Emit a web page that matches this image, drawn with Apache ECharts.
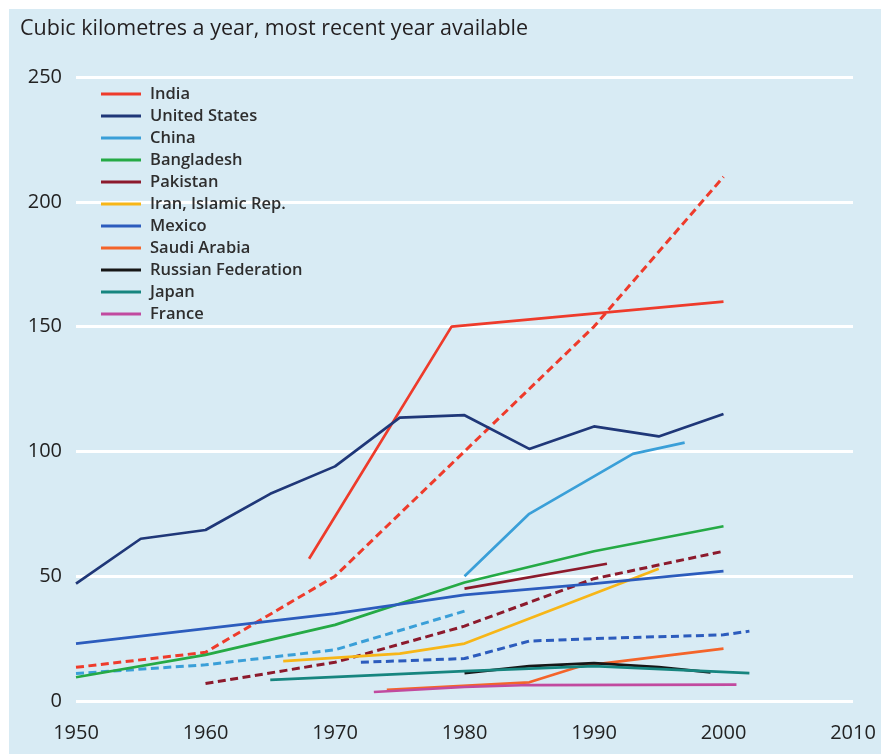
<!DOCTYPE html>
<html>
<head>
<meta charset="utf-8">
<script src="https://cdn.jsdelivr.net/npm/echarts@6/dist/echarts.min.js"></script>
<style>
  html, body { margin: 0; padding: 0; background: #ffffff; }
  #chart { position: absolute; left: 9px; top: 9px; width: 872px; height: 745px; }
</style>
</head>
<body>
<div id="chart"></div>
<script>
// Water withdrawals, cubic kilometres a year: [year, value]
const countries = ['India', 'United States', 'China', 'Bangladesh', 'Pakistan',
  'Iran, Islamic Rep.', 'Mexico', 'Saudi Arabia', 'Russian Federation', 'Japan', 'France'];

const india = [[1968, 57], [1979, 150], [2000, 160]];
const unitedStates = [[1950, 47], [1955, 65], [1960, 68.5], [1965, 83], [1970, 94], [1975, 113.5],
  [1980, 114.5], [1985, 101], [1990, 110], [1995, 106], [2000, 115]];
const china = [[1980, 50], [1985, 75], [1993, 99], [1997, 103.5]];
const bangladesh = [[1950, 9.5], [1960, 18.5], [1970, 30.5], [1980, 47.5], [1990, 60], [2000, 70]];
const pakistan = [[1980, 45], [1991, 55]];
const iran = [[1966, 16], [1975, 19], [1980, 23], [1995, 53]];
const mexico = [[1950, 23], [1960, 29], [1970, 35], [1980, 42.5], [1990, 47], [2000, 52]];
const saudiArabia = [[1974, 4.5], [1985, 7.5], [1989, 14], [2000, 21]];
const russia = [[1980, 11.2], [1985, 14], [1990, 15.2], [1995, 13.6], [1999, 11.5]];
const japan = [[1965, 8.5], [1980, 12], [1990, 14], [2002, 11.2]];
const france = [[1973, 3.6], [1980, 5.6], [1985, 6.4], [2001, 6.6]];

// second (dashed) series for several countries
const indiaDashed = [[1950, 13.5], [1960, 19.5], [1970, 50], [1980, 100], [1990, 150], [2000, 210]];
const chinaDashed = [[1950, 11], [1960, 14.5], [1970, 20.5], [1980, 36]];
const pakistanDashed = [[1960, 7], [1970, 15.5], [1980, 30], [1990, 49], [2000, 60]];
const mexicoDashed = [[1972, 15.5], [1980, 17], [1985, 24], [1990, 25], [2000, 26.5], [2002, 28]];

const yearTicks = [1950, 1960, 1970, 1980, 1990, 2000, 2010];
const valueTicks = [0, 50, 100, 150, 200, 250];

const colors = {
  'India': '#ee3b2b',
  'United States': '#1f3778',
  'China': '#3a9fd8',
  'Bangladesh': '#25aa45',
  'Pakistan': '#8c1a2c',
  'Iran, Islamic Rep.': '#f7b617',
  'Mexico': '#2c5cbd',
  'Saudi Arabia': '#f4642a',
  'Russian Federation': '#161616',
  'Japan': '#16857f',
  'France': '#c14a9f'
};

const solid = [india, unitedStates, china, bangladesh, pakistan, iran, mexico, saudiArabia, russia, japan, france];
const dashed = [['India', indiaDashed], ['China', chinaDashed], ['Pakistan', pakistanDashed], ['Mexico', mexicoDashed]];

const font = '"Open Sans", "Noto Sans", sans-serif';

function lineSeries(name, data, isDashed) {
  return {
    name: name,
    type: 'line',
    data: data,
    symbol: 'none',
    smooth: false,
    color: colors[name],
    lineStyle: { width: isDashed ? 3 : 2.7, type: isDashed ? [8, 4.5] : 'solid', color: colors[name] },
    emphasis: { disabled: true },
    z: isDashed ? 2 : 3
  };
}

const series = [];
dashed.forEach(([name, data]) => series.push(lineSeries(name, data, true)));
countries.forEach((name, i) => series.push(lineSeries(name, solid[i], false)));

const chart = echarts.init(document.getElementById('chart'), null, { renderer: 'canvas' });
chart.setOption({
  backgroundColor: '#d8ebf4',
  animation: false,
  title: {
    text: 'Cubic kilometres a year, most recent year available',
    left: 6, top: 4,
    textStyle: { fontFamily: font, fontSize: 21.5, fontWeight: 'normal', color: '#231f20' }
  },
  legend: {
    data: countries,
    orient: 'vertical',
    left: 87, top: 69,
    icon: 'rect',
    itemWidth: 40, itemHeight: 3,
    itemGap: 0,
    selectedMode: false,
    textStyle: { fontFamily: font, fontSize: 16.5, fontWeight: 600, color: '#2e2e2e', lineHeight: 22, padding: [0, 0, 0, 4] }
  },
  grid: { left: 67, right: 28, top: 68, bottom: 53, containLabel: false },
  xAxis: {
    type: 'value',
    min: yearTicks[0], max: yearTicks[yearTicks.length - 1], interval: 10,
    axisLine: { show: false }, axisTick: { show: false }, splitLine: { show: false },
    axisLabel: { margin: 22, fontFamily: font, fontSize: 20, color: '#222222', formatter: v => String(v) }
  },
  yAxis: {
    type: 'value',
    min: valueTicks[0], max: valueTicks[valueTicks.length - 1], interval: 50,
    axisLine: { show: false }, axisTick: { show: false },
    splitLine: { show: true, lineStyle: { color: '#ffffff', width: 3 } },
    axisLabel: { margin: 14, fontFamily: font, fontSize: 20, color: '#222222' }
  },
  series: series
});
</script>
</body>
</html>
